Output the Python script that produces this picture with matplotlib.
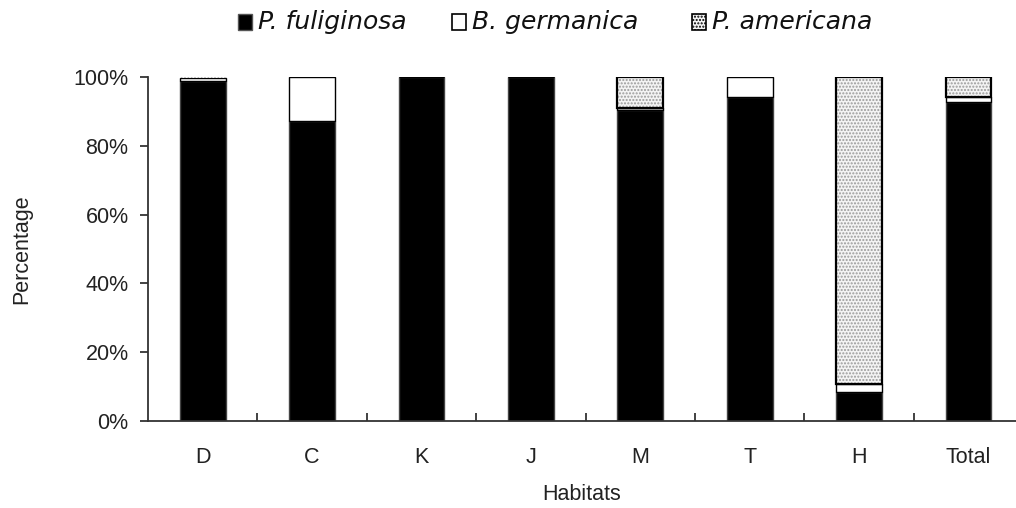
import matplotlib
matplotlib.use("Agg")
import matplotlib.pyplot as plt
import numpy as np
from matplotlib.patches import Rectangle
from matplotlib.ticker import FixedLocator

habitats = ["D", "C", "K", "J", "M", "T", "H", "Total"]
fuliginosa = [98.8, 87.3, 100.0, 100.0, 90.3, 94.3, 8.3, 92.7]
germanica = [0.9, 12.7, 0.0, 0.0, 0.6, 5.7, 2.6, 1.6]
americana = [0.3, 0.0, 0.0, 0.0, 9.1, 0.0, 89.1, 5.7]
series_names = ["P. fuliginosa", "B. germanica", "P. americana"]

plt.rcParams['font.family'] = ['Liberation Sans', 'DejaVu Sans']
plt.rcParams['hatch.linewidth'] = 1.0

W, H = 1016, 508
fig = plt.figure(figsize=(W/100, H/100), dpi=100)
ax = fig.add_axes([148/W, 1-421/H, 868/W, 344/H])

x = np.arange(len(habitats))
w = 0.42
f = np.array(fuliginosa)
g = np.array(germanica)
a = np.array(americana)

ax.bar(x, f, w, color='black', edgecolor='#444444', linewidth=1.0, zorder=2)
ax.bar(x, g, w, bottom=f, color='white', edgecolor='black', linewidth=1.0, zorder=2)
ax.bar(x, a, w, bottom=f+g, color='#f4f4f4', edgecolor='#9a9a9a', linewidth=0,
       hatch='.....', zorder=2)
mask = a > 0.5
ax.bar(x[mask], a[mask], w, bottom=(f+g)[mask], fill=False, edgecolor='black',
       linewidth=1.6, zorder=3)

ax.set_xlim(-0.5, -0.5 + 868/109.4)
ax.set_ylim(0, 100)
yt = [0, 20, 40, 60, 80, 100]
ax.set_yticks(yt)
ax.set_yticklabels([f"{v}%" for v in yt], fontsize=15.5, color='#222222')
ax.set_xticks(x)
ax.set_xticklabels(habitats, fontsize=15.5, color='#222222')
ax.xaxis.set_minor_locator(FixedLocator(np.arange(0.5, 7, 1.0)))
ax.tick_params(axis='x', which='major', length=0, pad=19)
ax.tick_params(axis='x', which='minor', direction='in', length=6, width=1.2, color='#222222')
ax.tick_params(axis='y', direction='out', length=6, width=1.2, color='#222222', pad=8)

for s in ['top', 'right']:
    ax.spines[s].set_visible(False)
for s in ['left', 'bottom']:
    ax.spines[s].set_linewidth(1.3)
    ax.spines[s].set_color('#333333')

ax.set_ylabel("Percentage", fontsize=15.5, color='#222222', labelpad=30)
ax.set_xlabel("Habitats", fontsize=15.5, color='#222222', labelpad=11)

# legend drawn manually at the top
handle_x = [238, 452, 692]
styles = [
    dict(facecolor='black', edgecolor='#555555', linewidth=1.0),
    dict(facecolor='white', edgecolor='black', linewidth=1.2),
    dict(facecolor='#f4f4f4', edgecolor='black', linewidth=1.2, hatch='.....'),
]
for hx, name, st in zip(handle_x, series_names, styles):
    fig.add_artist(Rectangle((hx/W, 1-30/H), 14/W, 16/H, transform=fig.transFigure, **st))
    fig.text((hx+20)/W, 1-22/H, name, fontsize=18, style='italic', color='#111111',
             family=['DejaVu Sans'], ha='left', va='center')

fig.savefig("out.png", dpi=100)
